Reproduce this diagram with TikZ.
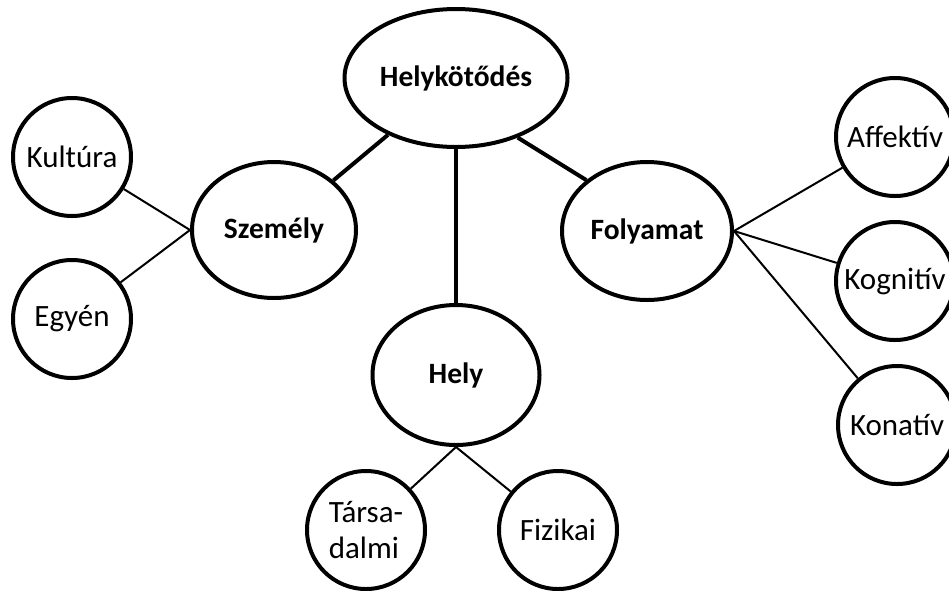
\documentclass[tikz,border=0pt]{standalone}
\usepackage{fontspec}
\setmainfont{Carlito}
\usetikzlibrary{positioning,shapes.geometric}

\begin{document}
\begin{tikzpicture}[x=1pt, y=-1pt,
    font=\fontsize{31}{36}\selectfont,
    main/.style={ellipse, draw, line width=4pt, font=\fontsize{29.5}{34}\selectfont\bfseries, inner sep=0pt},
    leaf/.style={circle, draw, line width=4pt, minimum size=118pt, inner sep=0pt},
    thick link/.style={line width=4pt},
    thin link/.style={line width=2pt}]
    \useasboundingbox (0,0) rectangle (949,590);
    \node [main, minimum width=223pt, minimum height=138pt] (helyk) at (456,78) {Helykötődés};
    \node [main, minimum width=164pt, minimum height=136pt] (szemely) at (274,230) {Személy};
    \node [main, minimum width=170pt, minimum height=138pt] (folyamat) at (647,231) {Folyamat};
    \node [main, minimum width=167pt, minimum height=140pt] (hely) at (456,375) {Hely};
    \node [leaf] (kultura) at (72,157) {Kultúra};
    \node [leaf, below=40pt of kultura] (egyen) {Egyén};
    \node [leaf, align=left] (tarsadalmi) at (366,530) {Társa-\\dalmi};
    \node [leaf, right=70pt of tarsadalmi] (fizikai) {Fizikai};
    \node [leaf] (affektiv) at (895,137) {Affektív};
    \node [leaf, below=22pt of affektiv] (kognitiv) {Kognitív};
    \node [leaf, below=22pt of kognitiv, xshift=2pt] (konativ) {Konatív};
    \draw [thick link] (helyk) -- (szemely);
    \draw [thick link] (helyk.south) -- (hely.north);
    \draw [thick link] (helyk.-44) -- (folyamat.140);
    \draw [thin link] (kultura) -- (szemely.west);
    \draw [thin link] (egyen) -- (szemely.west);
    \draw [thin link] (hely.south) -- (tarsadalmi);
    \draw [thin link] (hely.south) -- (fizikai);
    \draw [thin link] (folyamat.east) -- (affektiv);
    \draw [thin link] (folyamat.east) -- (kognitiv);
    \draw [thin link] (folyamat.east) -- (konativ);
\end{tikzpicture}
\end{document}
